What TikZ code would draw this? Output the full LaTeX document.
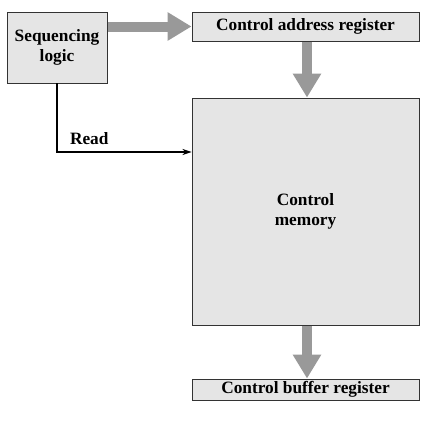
\documentclass[tikz,border=0pt]{standalone}
\usepackage{fontspec}
\setmainfont{Liberation Serif}
\usetikzlibrary{calc, arrows, positioning}
\usetikzlibrary{arrows.meta}
\definecolor{boxfill}{gray}{0.9}
\definecolor{bigarrowgray}{gray}{0.6}

\begin{document}
\begin{tikzpicture}[x=1pt, y=-1pt,
        block/.style={draw=black!80, line width=0.9pt, fill=boxfill, inner sep=0pt,
            align=center, font=\fontsize{17.3}{19.5}\selectfont\bfseries},
        bigarrow/.style={draw=bigarrowgray, line width=10pt,
            -{Triangle[length=24pt, width=27pt]}, shorten <=0.5pt}]
        \useasboundingbox (0,0) rectangle (430,423);
        \node[block, minimum width=100pt, minimum height=71pt] (seq) at (57,47.5) {Sequencing\\logic};
        \node[block, minimum width=227pt, minimum height=29pt] (car) at (305.5,26.5) {Control address register};
        \node[block, minimum width=227pt, minimum height=227pt] (mem) at (305.5,211.5) {Control\\memory};
        \node[block, minimum width=227pt, minimum height=21pt] (cbr) at (305.5,389.5) {Control buffer register};
        \coordinate (readin) at (mem.west |- 0,152);
        \draw[bigarrow] (seq.east |- car.west) -- (car.west);
        \draw[bigarrow] ([xshift=1.5pt]car.south) -- ([xshift=1.5pt]mem.north);
        \draw[bigarrow] ([xshift=1.5pt]mem.south) -- ([xshift=1.5pt]cbr.north);
        \draw[line width=1.4pt, -{Stealth[length=9pt, width=6pt]}] (seq.south) |- (readin)
            node[pos=0.62, above=3pt, font=\fontsize{17.3}{19.5}\selectfont\bfseries] {Read};
\end{tikzpicture}
\end{document}
